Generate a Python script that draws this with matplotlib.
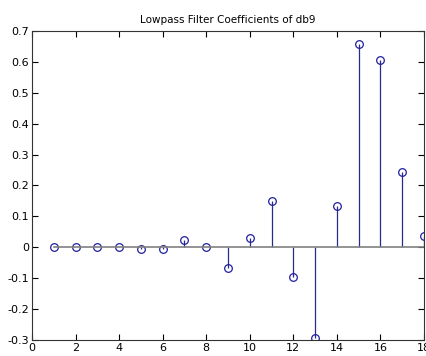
import numpy as np
import matplotlib.pyplot as plt

# db9 lowpass (reconstruction) filter coefficients
idx = np.arange(1, 19)
coefs = [0.0000393, -0.0002520, 0.0002304, 0.0018476, -0.0042815, -0.0047232,
         0.0223617, 0.0002509, -0.0676328, 0.0307257, 0.1485407, -0.0968408,
         -0.2932738, 0.1331974, 0.6572881, 0.6048231, 0.2438347, 0.0380779]

fig = plt.figure(figsize=(4.27, 3.56), dpi=100)
ax = fig.add_axes([0.075, 0.045, 0.918, 0.868])

mk, st, bl = ax.stem(idx, coefs)
plt.setp(st, color='#2a2a8a', linewidth=0.9)
plt.setp(mk, markerfacecolor='none', markeredgecolor='#1f1fa0', markersize=5.5, markeredgewidth=0.9)
plt.setp(bl, color='#808080', linewidth=1.2)

ax.set_xlim(0, 18)
ax.set_ylim(-0.3, 0.7)
ax.set_xticks(np.arange(0, 19, 2))
ax.set_yticks(np.arange(-0.3, 0.71, 0.1))
ax.set_yticklabels(['-0.3', '-0.2', '-0.1', '0', '0.1', '0.2', '0.3', '0.4', '0.5', '0.6', '0.7'])
ax.tick_params(direction='in', top=True, right=True, labelsize=8, length=4, width=0.8, pad=2)
for s in ax.spines.values():
    s.set_linewidth(0.8)
    s.set_color('#333333')
ax.set_title('Lowpass Filter Coefficients of db9', fontsize=7.5, pad=6)

fig.savefig('out.png', dpi=100)
